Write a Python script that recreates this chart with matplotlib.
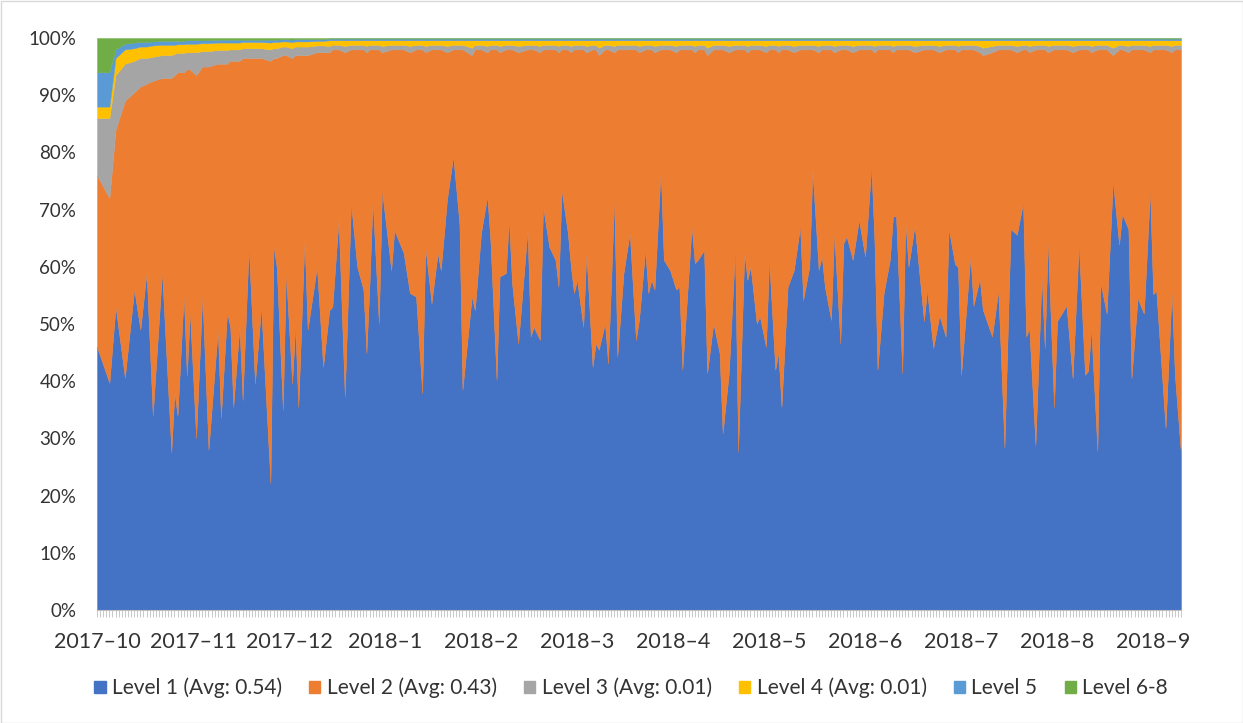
import matplotlib
matplotlib.use("Agg")
import matplotlib.pyplot as plt
import numpy as np
from matplotlib.patches import Patch, Rectangle
from matplotlib.ticker import MultipleLocator

# ---------------- data ----------------
day = [0, 4, 6, 9, 12, 14, 16, 18, 21, 24,
       25, 26, 28, 29, 30, 32, 34, 36, 39, 40,
       42, 43, 44, 46, 47, 49, 51, 53, 56, 57,
       58, 60, 61, 63, 64, 65, 67, 68, 71, 73,
       75, 76, 78, 80, 82, 84, 86, 87, 88, 89,
       91, 92, 95, 96, 99, 101, 103, 105, 106, 108,
       110, 111, 113, 115, 117, 118, 121, 122, 124, 126,
       127, 129, 130, 132, 133, 134, 136, 139, 140, 141,
       143, 144, 146, 148, 149, 150, 152, 153, 154, 155,
       157, 158, 160, 161, 162, 164, 165, 167, 168, 170,
       172, 174, 175, 177, 178, 179, 180, 182, 183, 185,
       187, 188, 189, 192, 193, 194, 196, 197, 199, 201,
       202, 204, 206, 207, 209, 210, 211, 213, 214, 216,
       217, 219, 220, 221, 223, 225, 227, 228, 230, 231,
       233, 234, 235, 237, 238, 240, 241, 242, 244, 246,
       248, 250, 251, 252, 254, 256, 257, 258, 260, 261,
       262, 264, 267, 268, 270, 272, 274, 275, 277, 278,
       279, 282, 283, 285, 286, 289, 291, 293, 295, 297,
       299, 300, 301, 303, 305, 306, 307, 309, 310, 313,
       315, 317, 319, 320, 321, 323, 324, 326, 328, 330,
       331, 333, 334, 336, 338, 340, 341, 342, 345, 347,
       348, 350]

level1 = [46, 39.7, 53, 40.6, 56, 49, 59, 34, 59, 27.6,
          38, 34, 55, 41, 52, 30, 55, 28, 49, 33.6,
          52, 49.5, 35.5, 49.5, 36.7, 63.5, 39.6, 53, 22.1, 63.5,
          60, 35, 58.9, 39.6, 49.5, 35.5, 64.7, 49, 60, 42.5,
          52.4, 53, 68.2, 37.3, 71.1, 60, 56, 44.9, 57.1, 71.7,
          50.1, 73.4, 59.4, 66.4, 62.4, 55.4, 54.8, 37.9, 63.5, 53.6,
          62.4, 59.4, 71.7, 79.3, 67.6, 38.5, 54.8, 52.4, 65.9, 72.3,
          64.7, 40.2, 58.3, 58.9, 68.2, 57.1, 46.6, 66.4, 47.8, 49.5,
          47.2, 70.5, 63.5, 61.2, 56.5, 73.4, 65.9, 60, 55.4, 57.7,
          49.5, 62.4, 42.5, 46.6, 45.5, 50.1, 43.1, 71.7, 44.3, 58.9,
          65.9, 47.2, 50.7, 62.9, 55.4, 57.7, 56, 76.9, 61.2, 59.4,
          56, 56.5, 42, 67, 60.6, 61.2, 62.9, 41.4, 50.1, 44.9,
          30.9, 41.4, 62.9, 27.7, 62.4, 57.7, 60, 50.1, 51.3, 46,
          61.2, 42, 44.9, 35.5, 56.5, 59.4, 67, 54.2, 60, 76.9,
          59.4, 61.8, 56.5, 50.7, 65.9, 46.6, 64.1, 65.3, 61.2, 68.2,
          61.8, 77.5, 64.7, 42, 55.4, 61.2, 68.8, 68.8, 41.4, 67.9,
          60, 67.2, 50.5, 55.8, 45.8, 51.5, 47.8, 66.6, 60.5, 59.9,
          41.1, 61.9, 53.2, 57.9, 52.5, 47.8, 55.8, 28.4, 66.6, 65.6,
          71.2, 47.8, 49.2, 28.8, 58.5, 45.8, 64.5, 35.4, 50.5, 53.2,
          40.5, 63.9, 41.1, 41.8, 49.2, 27.8, 57.2, 51.8, 74.9, 63.9,
          69.2, 66.6, 40.5, 54.5, 51.8, 73.2, 55.2, 55.8, 31.8, 55.8,
          41.1, 27.1]

level2 = [30, 32.3, 31, 48.4, 34.5, 42.5, 33, 58.5, 34, 65.4,
          55.5, 60, 39, 53.5, 42.5, 63.5, 40, 67, 46.5, 61.9,
          43.5, 46.5, 60.5, 46.5, 59.8, 33, 56.9, 43.5, 73.9, 33,
          36.5, 62, 38.1, 56.9, 47.5, 61.5, 32.3, 48, 37.5, 55,
          45.1, 45, 29.8, 60.2, 26.9, 38, 42, 52.6, 40.9, 26.3,
          47.9, 24.1, 38.6, 31.6, 35.6, 42.1, 43.2, 60.1, 34, 44.4,
          35.6, 38.6, 25.8, 18.7, 30.4, 59.5, 42.2, 45.6, 32.1, 25.2,
          33.3, 57.8, 39.2, 39.1, 29.8, 40.9, 50.9, 31.6, 50.2, 48.5,
          50.3, 27.5, 34.5, 36.8, 41, 24.6, 32.1, 37.5, 42.6, 40.3,
          48.5, 35.1, 55.5, 51.4, 51.5, 47.9, 54.9, 25.8, 53.7, 39.1,
          32.1, 50.8, 46.8, 35.1, 42.6, 40.3, 41.5, 21.1, 36.8, 38.6,
          41.5, 41.5, 56, 31, 36.9, 36.8, 35.1, 55.6, 47.9, 53.1,
          67.1, 56.1, 35.1, 70.3, 35.6, 39.8, 38, 47.9, 46.7, 51.5,
          36.8, 56, 52.6, 62.5, 41.5, 38.1, 31, 43.8, 38, 21.1,
          38.1, 36.2, 41.5, 47.3, 31.6, 51.4, 33.9, 32.7, 36.3, 29.8,
          36.2, 20.5, 32.8, 56, 42.6, 36.8, 28.7, 29.2, 56.6, 30.1,
          38, 30.3, 47.5, 42.2, 52.2, 46, 50.2, 31.4, 37.5, 37.6,
          56.9, 36.1, 44.8, 39.6, 44.5, 49.7, 42.2, 69.6, 31.4, 31.9,
          26.8, 50.2, 48.3, 69.2, 39.5, 52.2, 33, 62.6, 47.5, 44.8,
          57, 34.1, 56.9, 56.2, 48.3, 70.2, 40.8, 46.2, 22.1, 34.1,
          28.8, 30.9, 57.5, 43.5, 46.2, 24.3, 42.8, 42.2, 66.2, 41.7,
          56.9, 70.9]

level3 = [10, 14, 9.5, 6.5, 5.5, 5, 4.5, 4.2, 4, 4,
          3.7, 3.4, 3.4, 3, 3, 4, 2.7, 2.7, 2.4, 2.4,
          2.4, 2, 2, 2, 1.7, 1.7, 1.7, 1.7, 2, 1.7,
          1.7, 1.5, 1.5, 1.7, 1.5, 1.5, 1.5, 1.5, 1.2, 1.2,
          1.1, 0.8, 0.8, 1.1, 0.8, 0.8, 0.8, 1.1, 0.8, 0.8,
          0.8, 1.1, 0.8, 0.8, 0.8, 1.1, 0.8, 0.8, 1.1, 0.8,
          0.8, 0.8, 1.1, 0.8, 0.8, 0.8, 1.3, 0.8, 0.8, 1.1,
          0.8, 0.8, 1.1, 0.8, 0.8, 0.8, 1.1, 0.8, 0.8, 0.8,
          1.1, 0.8, 0.8, 0.8, 1.1, 0.8, 0.8, 1.1, 0.8, 0.8,
          0.8, 1.1, 0.8, 0.8, 1.3, 0.8, 0.8, 1.1, 0.8, 0.8,
          0.8, 0.8, 1.1, 0.8, 0.8, 0.8, 1.1, 0.8, 0.8, 0.8,
          1.1, 0.8, 0.8, 0.8, 1.1, 0.8, 0.8, 1.3, 0.8, 0.8,
          0.8, 1.1, 0.8, 0.8, 0.8, 1.1, 0.8, 0.8, 0.8, 1.1,
          0.8, 0.8, 1.1, 0.8, 0.8, 1.1, 0.8, 0.8, 0.8, 0.8,
          1.1, 0.8, 0.8, 0.8, 1.1, 0.8, 0.8, 0.8, 1.1, 0.8,
          0.8, 0.8, 1.1, 0.8, 0.8, 0.8, 1.1, 0.8, 0.8, 0.8,
          0.8, 1.1, 0.8, 0.8, 0.8, 1.1, 0.8, 0.8, 0.8, 1.1,
          0.8, 0.8, 0.8, 1.1, 1.3, 1.1, 0.8, 0.8, 0.8, 1.1,
          0.8, 0.8, 1.1, 0.8, 0.8, 0.8, 1.1, 0.8, 0.8, 0.8,
          1.1, 0.8, 0.8, 0.8, 1.1, 0.8, 0.8, 0.8, 1.3, 0.8,
          0.8, 1.1, 0.8, 0.8, 0.8, 1.1, 0.8, 0.8, 0.8, 1.1,
          0.8, 0.8]

level4 = [2, 2, 3, 2.5, 2.2, 2, 2, 2, 1.8, 1.8,
          1.6, 1.5, 1.5, 1.5, 1.5, 1.5, 1.4, 1.4, 1.3, 1.3,
          1.3, 1.2, 1.2, 1.2, 1.1, 1.1, 1.1, 1.1, 1.2, 1.1,
          1.1, 0.9, 0.9, 1.1, 0.9, 0.9, 0.9, 0.9, 0.8, 0.8,
          1.0, 0.8, 0.8, 1.0, 0.8, 0.8, 0.8, 1.0, 0.8, 0.8,
          0.8, 1.0, 0.8, 0.8, 0.8, 1.0, 0.8, 0.8, 1.0, 0.8,
          0.8, 0.8, 1.0, 0.8, 0.8, 0.8, 1.3, 0.8, 0.8, 1.0,
          0.8, 0.8, 1.0, 0.8, 0.8, 0.8, 1.0, 0.8, 0.8, 0.8,
          1.0, 0.8, 0.8, 0.8, 1.0, 0.8, 0.8, 1.0, 0.8, 0.8,
          0.8, 1.0, 0.8, 0.8, 1.3, 0.8, 0.8, 1.0, 0.8, 0.8,
          0.8, 0.8, 1.0, 0.8, 0.8, 0.8, 1.0, 0.8, 0.8, 0.8,
          1.0, 0.8, 0.8, 0.8, 1.0, 0.8, 0.8, 1.3, 0.8, 0.8,
          0.8, 1.0, 0.8, 0.8, 0.8, 1.0, 0.8, 0.8, 0.8, 1.0,
          0.8, 0.8, 1.0, 0.8, 0.8, 1.0, 0.8, 0.8, 0.8, 0.8,
          1.0, 0.8, 0.8, 0.8, 1.0, 0.8, 0.8, 0.8, 1.0, 0.8,
          0.8, 0.8, 1.0, 0.8, 0.8, 0.8, 1.0, 0.8, 0.8, 0.8,
          0.8, 1.0, 0.8, 0.8, 0.8, 1.0, 0.8, 0.8, 0.8, 1.0,
          0.8, 0.8, 0.8, 1.0, 1.3, 1.0, 0.8, 0.8, 0.8, 1.0,
          0.8, 0.8, 1.0, 0.8, 0.8, 0.8, 1.0, 0.8, 0.8, 0.8,
          1.0, 0.8, 0.8, 0.8, 1.0, 0.8, 0.8, 0.8, 1.3, 0.8,
          0.8, 1.0, 0.8, 0.8, 0.8, 1.0, 0.8, 0.8, 0.8, 1.0,
          0.8, 0.8]

level5 = [6, 6, 1.5, 1, 1, 0.8, 0.8, 0.7, 0.7, 0.7,
          0.7, 0.6, 0.6, 0.6, 0.6, 0.6, 0.5, 0.5, 0.5, 0.5,
          0.5, 0.5, 0.5, 0.5, 0.4, 0.4, 0.4, 0.4, 0.5, 0.4,
          0.4, 0.4, 0.4, 0.4, 0.4, 0.4, 0.4, 0.4, 0.3, 0.3,
          0.3, 0.3, 0.3, 0.3, 0.3, 0.3, 0.3, 0.3, 0.3, 0.3,
          0.3, 0.3, 0.3, 0.3, 0.3, 0.3, 0.3, 0.3, 0.3, 0.3,
          0.3, 0.3, 0.3, 0.3, 0.3, 0.3, 0.3, 0.3, 0.3, 0.3,
          0.3, 0.3, 0.3, 0.3, 0.3, 0.3, 0.3, 0.3, 0.3, 0.3,
          0.3, 0.3, 0.3, 0.3, 0.3, 0.3, 0.3, 0.3, 0.3, 0.3,
          0.3, 0.3, 0.3, 0.3, 0.3, 0.3, 0.3, 0.3, 0.3, 0.3,
          0.3, 0.3, 0.3, 0.3, 0.3, 0.3, 0.3, 0.3, 0.3, 0.3,
          0.3, 0.3, 0.3, 0.3, 0.3, 0.3, 0.3, 0.3, 0.3, 0.3,
          0.3, 0.3, 0.3, 0.3, 0.3, 0.3, 0.3, 0.3, 0.3, 0.3,
          0.3, 0.3, 0.3, 0.3, 0.3, 0.3, 0.3, 0.3, 0.3, 0.3,
          0.3, 0.3, 0.3, 0.3, 0.3, 0.3, 0.3, 0.3, 0.3, 0.3,
          0.3, 0.3, 0.3, 0.3, 0.3, 0.3, 0.3, 0.3, 0.3, 0.3,
          0.3, 0.3, 0.3, 0.3, 0.3, 0.3, 0.3, 0.3, 0.3, 0.3,
          0.3, 0.3, 0.3, 0.3, 0.3, 0.3, 0.3, 0.3, 0.3, 0.3,
          0.3, 0.3, 0.3, 0.3, 0.3, 0.3, 0.3, 0.3, 0.3, 0.3,
          0.3, 0.3, 0.3, 0.3, 0.3, 0.3, 0.3, 0.3, 0.3, 0.3,
          0.3, 0.3, 0.3, 0.3, 0.3, 0.3, 0.3, 0.3, 0.3, 0.3,
          0.3, 0.3]

level6_8 = [6, 6, 2, 1, 0.8, 0.7, 0.7, 0.6, 0.5, 0.5,
            0.5, 0.5, 0.5, 0.4, 0.4, 0.4, 0.4, 0.4, 0.3, 0.3,
            0.3, 0.3, 0.3, 0.3, 0.3, 0.3, 0.3, 0.3, 0.3, 0.3,
            0.3, 0.2, 0.2, 0.3, 0.2, 0.2, 0.2, 0.2, 0.2, 0.2,
            0.1, 0.1, 0.1, 0.1, 0.1, 0.1, 0.1, 0.1, 0.1, 0.1,
            0.1, 0.1, 0.1, 0.1, 0.1, 0.1, 0.1, 0.1, 0.1, 0.1,
            0.1, 0.1, 0.1, 0.1, 0.1, 0.1, 0.1, 0.1, 0.1, 0.1,
            0.1, 0.1, 0.1, 0.1, 0.1, 0.1, 0.1, 0.1, 0.1, 0.1,
            0.1, 0.1, 0.1, 0.1, 0.1, 0.1, 0.1, 0.1, 0.1, 0.1,
            0.1, 0.1, 0.1, 0.1, 0.1, 0.1, 0.1, 0.1, 0.1, 0.1,
            0.1, 0.1, 0.1, 0.1, 0.1, 0.1, 0.1, 0.1, 0.1, 0.1,
            0.1, 0.1, 0.1, 0.1, 0.1, 0.1, 0.1, 0.1, 0.1, 0.1,
            0.1, 0.1, 0.1, 0.1, 0.1, 0.1, 0.1, 0.1, 0.1, 0.1,
            0.1, 0.1, 0.1, 0.1, 0.1, 0.1, 0.1, 0.1, 0.1, 0.1,
            0.1, 0.1, 0.1, 0.1, 0.1, 0.1, 0.1, 0.1, 0.1, 0.1,
            0.1, 0.1, 0.1, 0.1, 0.1, 0.1, 0.1, 0.1, 0.1, 0.1,
            0.1, 0.1, 0.1, 0.1, 0.1, 0.1, 0.1, 0.1, 0.1, 0.1,
            0.1, 0.1, 0.1, 0.1, 0.1, 0.1, 0.1, 0.1, 0.1, 0.1,
            0.1, 0.1, 0.1, 0.1, 0.1, 0.1, 0.1, 0.1, 0.1, 0.1,
            0.1, 0.1, 0.1, 0.1, 0.1, 0.1, 0.1, 0.1, 0.1, 0.1,
            0.1, 0.1, 0.1, 0.1, 0.1, 0.1, 0.1, 0.1, 0.1, 0.1,
            0.1, 0.1]

series_names = ["Level 1 (Avg: 0.54)", "Level 2 (Avg: 0.43)",
                "Level 3 (Avg: 0.01)", "Level 4 (Avg: 0.01)",
                "Level 5", "Level 6-8"]
month_labels = ["2017\u201310", "2017\u201311", "2017\u201312", "2018\u20131",
                "2018\u20132", "2018\u20133", "2018\u20134", "2018\u20135",
                "2018\u20136", "2018\u20137", "2018\u20138", "2018\u20139"]
y_labels = ["0%", "10%", "20%", "30%", "40%", "50%",
            "60%", "70%", "80%", "90%", "100%"]
colors = ["#4472C4", "#ED7D31", "#A5A5A5", "#FFC000", "#5B9BD5", "#70AD47"]

# ---------------- drawing ----------------
series = [level1, level2, level3, level4, level5, level6_8]
for s in series:
    assert len(s) == len(day), (len(s), len(day))

# 100% stacked: normalise each day to a total of 100
arr = np.array(series, dtype=float)
arr = arr / arr.sum(axis=0) * 100.0

plt.rcParams["font.family"] = ["Lato", "DejaVu Sans"]
text_color = "#333333"

W, H = 1243, 723
fig = plt.figure(figsize=(W / 100, H / 100), dpi=100)
ax = fig.add_axes([97 / W, (H - 610) / H, (1181 - 97) / W, (610 - 38) / H])

ax.stackplot(day, *arr, colors=colors, labels=series_names,
             linewidth=0.3, edgecolor="face")

ax.set_xlim(day[0], day[-1])
ax.set_ylim(0, 100)

ax.set_yticks(np.arange(0, 101, 10))
ax.set_yticklabels(y_labels)
month_step = 31
ax.set_xticks([i * month_step for i in range(len(month_labels))])
ax.set_xticklabels(month_labels)
ax.xaxis.set_minor_locator(MultipleLocator(1))

ax.tick_params(axis="y", length=0, pad=15, labelsize=13.5, labelcolor=text_color)
ax.tick_params(axis="x", which="major", length=5, width=0.6, color="#BFBFBF",
               pad=11, labelsize=15.5, labelcolor=text_color)
ax.tick_params(axis="x", which="minor", length=5, width=0.6, color="#BFBFBF")

for side in ["top", "right", "left"]:
    ax.spines[side].set_visible(False)
ax.spines["bottom"].set_color("#BFBFBF")
ax.spines["bottom"].set_linewidth(0.8)

handles = [Patch(facecolor=c, edgecolor=c) for c in colors]
fig.legend(handles, series_names, loc="center",
           bbox_to_anchor=(631 / W, 1 - 688 / H), ncol=6, frameon=False,
           handlelength=0.55, handleheight=0.55, handletextpad=0.3,
           columnspacing=1.3, fontsize=15, labelcolor=text_color)

fig.patches.append(Rectangle((0.5 / W, 0.5 / H), 1 - 1.0 / W, 1 - 1.0 / H,
                             transform=fig.transFigure, fill=False,
                             edgecolor="#D9D9D9", linewidth=1))

fig.savefig("out.png", dpi=100)
